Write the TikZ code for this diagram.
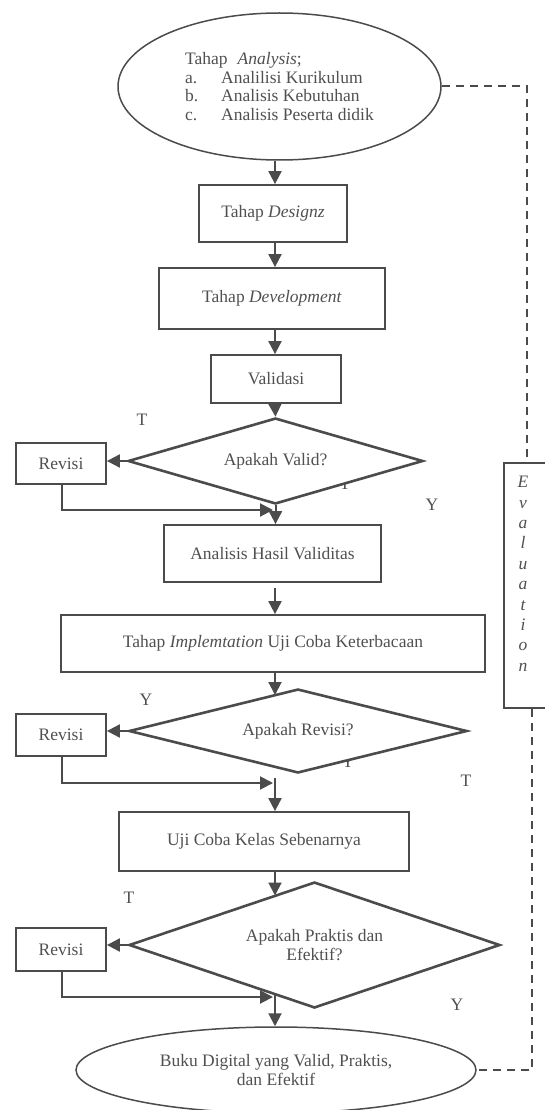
\documentclass[tikz,border=0pt]{standalone}
\usepackage{fontspec}
\setmainfont{Liberation Serif}
\usetikzlibrary{shapes.geometric,arrows.meta}
\definecolor{ln}{HTML}{4B4B4B}
\definecolor{tx}{HTML}{505050}
\begin{document}
\begin{tikzpicture}[x=1pt,y=-1pt,
  font=\fontsize{17.5}{18.8}\selectfont, text=tx,
  box/.style={draw=ln,line width=1.8pt,inner sep=0pt,align=center},
  dia/.style={diamond,draw=ln,line width=2.6pt,fill=white,inner sep=0pt,align=center},
  ell/.style={ellipse,draw=ln,line width=1.5pt,inner sep=0pt},
  arr/.style={draw=ln,line width=2pt,-{Triangle[length=13pt,width=13pt]}},
  dsh/.style={draw=ln,line width=2pt,dash pattern=on 8pt off 6pt},
  lab/.style={inner sep=0pt}
]
\useasboundingbox (0,0) rectangle (545,1110);

% nodes
\node[ell,minimum width=323,minimum height=147,align=left] (top) at (279.5,86.5)
  {Tahap\hspace{10pt}\textit{Analysis};\\
   \makebox[36pt][l]{a.}Analilisi Kurikulum\\
   \makebox[36pt][l]{b.}Analisis Kebutuhan\\
   \makebox[36pt][l]{c.}Analisis Peserta didik};
\node[box,minimum width=148,minimum height=57] (des) at (273,213.5) {Tahap \textit{Designz}};
\node[box,minimum width=226,minimum height=61] (dev) at (272,298.5) {Tahap \textit{Development}};
\node[box,minimum width=130,minimum height=48] (val) at (276,379) {Validasi};

% hidden label fragments (covered by diamonds)
\node[lab] (hy1) at (345,484) {Y};
\node[lab] (hy2) at (348,762) {Y};

\node[dia,aspect=3.43,minimum width=295,minimum height=86] (d1) at (275.5,461) {Apakah Valid?};
\node[box,minimum width=90,minimum height=41] (rev1) at (61,463.5) {Revisi};
\node[box,minimum width=217,minimum height=57] (ana) at (272.5,553.5) {Analisis Hasil Validitas};
\node[box,minimum width=424,minimum height=57] (imp) at (273,643.5) {Tahap \textit{Implemtation} Uji Coba Keterbacaan};
\node[dia,aspect=4.02,minimum width=338,minimum height=84] (d2) at (298,731) {Apakah Revisi?};
\node[box,minimum width=90,minimum height=42] (rev2) at (61,735) {Revisi};
\node[box,minimum width=290,minimum height=59] (uji) at (264,841.5) {Uji Coba Kelas Sebenarnya};
\node[dia,aspect=2.94,minimum width=371,minimum height=126] (d3) at (314.5,945) {Apakah Praktis dan\\Efektif?};
\node[box,minimum width=90,minimum height=43] (rev3) at (61,949.5) {Revisi};
\node[ell,minimum width=400,minimum height=86,align=center] (bot) at (276,1070)
  {Buku Digital yang Valid, Praktis,\\dan Efektif};

% evaluation box
\node[box,minimum width=56,minimum height=245] (eval) at (532,585.5) {};
\node[lab,anchor=north,align=center,font=\fontsize{17.5}{20.4}\selectfont\itshape] (evt) at (523,476)
  {E\\v\\a\\l\\u\\a\\t\\i\\o\\n};

% labels
\node[lab] (t1) at (142,420) {T};
\node[lab] (y1) at (432,505) {Y};
\node[lab] (y2) at (146,700) {Y};
\node[lab] (t2) at (466,781) {T};
\node[lab] (t3) at (129,898) {T};
\node[lab] (y3) at (457,1005) {Y};

% coordinates
\coordinate (fx) at (275,0);
\coordinate (s1) at (275,588);
\coordinate (c7) at (275,695);
\coordinate (s2) at (275,778);
\coordinate (c9) at (275,895.5);
\coordinate (s3) at (275,994);
\coordinate (j1) at (273,510);
\coordinate (j2) at (273,783);
\coordinate (j3) at (273,997);
\coordinate (rx) at (62,0);
\coordinate (dx) at (527,0);
\coordinate (dy) at (532,0);

% main flow
\draw[arr] (fx |- top.south) -- (fx |- des.north);
\draw[arr] (fx |- des.south) -- (fx |- dev.north);
\draw[arr] (fx |- dev.south) -- (fx |- val.north);
\draw[arr] (fx |- val.south) -- (d1.north);
\draw[arr] (d1.south) -- (d1.south |- ana.north);
\draw[arr] (s1) -- (s1 |- imp.north);
\draw[arr] (fx |- imp.south) -- (c7);
\draw[arr] (s2) -- (s2 |- uji.north);
\draw[arr] (fx |- uji.south) -- (c9);
\draw[arr] (s3) -- (s3 |- bot.north);

% revisions
\draw[arr] (d1.west) -- (d1.west -| rev1.east);
\draw[arr] (rx |- rev1.south) |- (j1);
\draw[arr] (d2.west) -- (d2.west -| rev2.east);
\draw[arr] (rx |- rev2.south) |- (j2);
\draw[arr] (d3.west) -- (d3.west -| rev3.east);
\draw[arr] (rx |- rev3.south) |- (j3);

% evaluation dashed loop
\draw[dsh] (top.east) -- (top.east -| dx) -- (dx |- eval.north);
\draw[dsh] (dy |- eval.south) -- (dy |- bot.east) -- (bot.east);
\end{tikzpicture}
\end{document}
